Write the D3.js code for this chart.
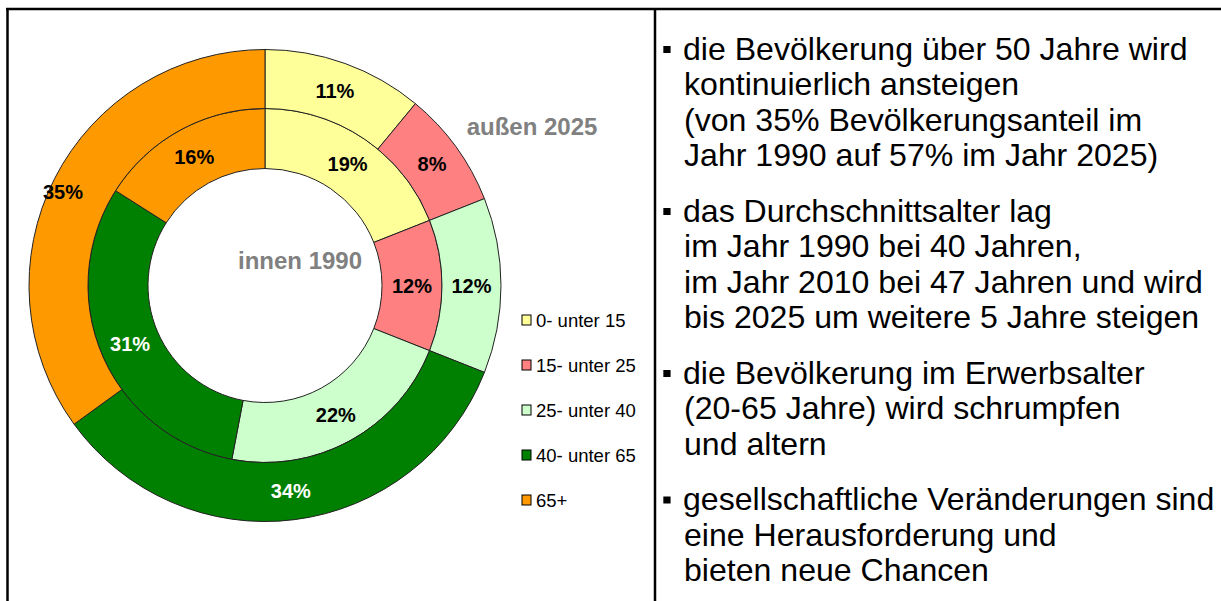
<!DOCTYPE html>
<html>
<head>
<meta charset="utf-8">
<script src="https://cdn.jsdelivr.net/npm/d3@7"></script>
<style>
  html, body { margin: 0; padding: 0; background: #fff; }
  svg { display: block; font-family: "Liberation Sans", Arial, sans-serif; }
</style>
</head>
<body>
<svg id="chart" width="1221" height="601"></svg>
<script>
(function () {
    'use strict';

    // age groups, colours and the two rings
    var categories = ["0- unter 15", "15- unter 25", "25- unter 40", "40- unter 65", "65+"];
    var colors = ["#FFFF99", "#FF8080", "#CCFFCC", "#008000", "#FF9900"];
    var inner1990 = [19, 12, 22, 31, 16];
    var outer2025 = [11, 8, 12, 34, 35];
    var ringTitles = ["innen 1990", "außen 2025"];

    var bullets = [
        ["die Bevölkerung über 50 Jahre wird", "kontinuierlich ansteigen", "(von 35% Bevölkerungsanteil im", "Jahr 1990 auf 57% im Jahr 2025)"],
        ["das Durchschnittsalter lag", "im Jahr 1990 bei 40 Jahren,", "im Jahr 2010 bei 47 Jahren und wird", "bis 2025 um weitere 5 Jahre steigen"],
        ["die Bevölkerung im Erwerbsalter", "(20-65 Jahre) wird schrumpfen", "und altern"],
        ["gesellschaftliche Veränderungen sind", "eine Herausforderung und", "bieten neue Chancen"]
    ];

    var svg = d3.select("#chart");

    // frame
    var frame = svg.append("g").attr("stroke", "#000").attr("stroke-width", 2.5);
    frame.append("line").attr("x1", 6).attr("x2", 1221).attr("y1", 9).attr("y2", 9);
    frame.append("line").attr("x1", 7.5).attr("x2", 7.5).attr("y1", 8).attr("y2", 601);
    frame.append("line").attr("x1", 655).attr("x2", 655).attr("y1", 8).attr("y2", 601);

    // doughnut
    var cx = 265, cy = 285.5;
    var rHole = 117, rMid = 177, rOut = 236;
    var color = d3.scaleOrdinal().domain(categories).range(colors);
    var pie = d3.pie().sort(null).value(function (d) { return d.v; });
    var toRows = function (vals) {
        return vals.map(function (v, i) { return { cat: categories[i], v: v }; });
    };

    var rings = [
        { data: toRows(inner1990), arc: d3.arc().innerRadius(rHole).outerRadius(rMid) },
        { data: toRows(outer2025), arc: d3.arc().innerRadius(rMid).outerRadius(rOut) }
    ];

    var g = svg.append("g").attr("transform", "translate(" + cx + "," + cy + ")");
    rings.forEach(function (ring) {
        var slices = pie(ring.data);
        g.append("g").selectAll("path")
            .data(slices)
            .enter()
            .append("path")
            .attr("d", ring.arc)
            .attr("fill", function (d) { return color(d.data.cat); })
            .attr("stroke", "#222")
            .attr("stroke-width", 1);
        g.append("g").selectAll("text")
            .data(slices)
            .enter()
            .append("text")
            .attr("transform", function (d) {
                var c = ring.arc.centroid(d);
                // the big 65+ label sits a bit further out, as in the source
                if (d.data.cat === "65+" && ring === rings[1]) c = [c[0] - 18, c[1]];
                return "translate(" + c + ")";
            })
            .attr("text-anchor", "middle")
            .attr("dy", "0.36em")
            .attr("font-size", 20)
            .attr("font-weight", "bold")
            .attr("fill", function (d) { return d.data.cat === "40- unter 65" ? "#fff" : "#000"; })
            .text(function (d) { return d.data.v + "%"; });
    });

    // ring captions
    svg.append("text")
        .attr("x", 300).attr("y", 269)
        .attr("text-anchor", "middle")
        .attr("font-size", 24).attr("font-weight", "bold")
        .attr("fill", "#808080")
        .text(ringTitles[0]);
    svg.append("text")
        .attr("x", 532).attr("y", 135)
        .attr("text-anchor", "middle")
        .attr("font-size", 24).attr("font-weight", "bold")
        .attr("fill", "#808080")
        .text(ringTitles[1]);

    // legend
    var legend = svg.append("g").attr("transform", "translate(522,320)");
    var item = legend.selectAll("g")
        .data(categories)
        .enter()
        .append("g")
        .attr("transform", function (d, i) { return "translate(0," + i * 45 + ")"; });
    item.append("rect")
        .attr("x", 0).attr("y", -5)
        .attr("width", 9).attr("height", 10)
        .attr("fill", function (d) { return color(d); })
        .attr("stroke", "#000").attr("stroke-width", 1);
    item.append("text")
        .attr("x", 14).attr("dy", "0.36em")
        .attr("font-size", 18.5)
        .attr("fill", "#000")
        .text(function (d) { return d; });

    // bullet text
    var lineH = 35.5, paraGap = 20;
    var tx = svg.append("g")
        .attr("transform", "translate(683,0) scale(1.035,1) translate(-683,0)");
    var y = 60;
    bullets.forEach(function (lines) {
        tx.append("rect")
            .attr("x", 664).attr("y", y - 14)
            .attr("width", 7).attr("height", 7)
            .attr("fill", "#000");
        lines.forEach(function (line, j) {
            tx.append("text")
                .attr("x", j === 0 ? 683 : 684)
                .attr("y", y)
                .attr("font-size", 31)
                .attr("fill", "#000")
                .text(line);
            y += lineH;
        });
        y += paraGap;
    });
}());
</script>
</body>
</html>
